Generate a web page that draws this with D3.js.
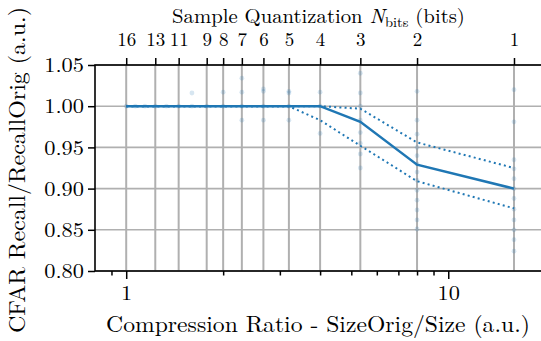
<!DOCTYPE html>
<html>
<head>
<meta charset="utf-8">
<script src="https://cdn.jsdelivr.net/npm/d3@7"></script>
<style>
  body { margin: 0; background: #fff; }
</style>
</head>
<body>
<div id="chart"></div>
<script>
// Data
const nbits = [16, 15, 14, 13, 12, 11, 10, 9, 8, 7, 6, 5, 4, 3, 2, 1];
const ratio = [1, 1.067, 1.143, 1.231, 1.333, 1.455, 1.6, 1.778, 2, 2.286, 2.667, 3.2, 4, 5.333, 8, 16];
const meanRecall  = [1, 1, 1, 1, 1, 1, 1, 1, 1, 1, 1, 1, 1, 0.981, 0.929, 0.900];
const upperRecall = [1, 1, 1, 1, 1, 1, 1, 1, 1, 1, 1, 1, 1, 0.997, 0.956, 0.925];
const lowerRecall = [1, 1, 1, 1, 1, 1, 1, 1, 1, 1, 1, 1, 0.983, 0.952, 0.909, 0.876];
const topTickBits = [16, 13, 11, 9, 8, 7, 6, 5, 4, 3, 2, 1];
const yTicks = [0.80, 0.85, 0.90, 0.95, 1.00, 1.05];
const xMajor = [1, 10];
const xMinor = [0.9, 2, 3, 4, 5, 6, 7, 8, 9, 20];
// single runs [nbits, recall ratio]
const runs = [
  [16, 1], [15, 1], [14, 1], [13, 1], [12, 1], [11, 1],
  [10, 1], [10, 1.016], [9, 1], [8, 1], [8, 1.017],
  [7, 1.034], [7, 1.017], [7, 1], [7, 0.983],
  [6, 1.018], [6, 1.021], [6, 1], [6, 0.983],
  [5, 1.016], [5, 1.018], [5, 1], [5, 0.983],
  [4, 1.017], [4, 1], [4, 0.967],
  [3, 1.040], [3, 1.016], [3, 1], [3, 0.983], [3, 0.968], [3, 0.955], [3, 0.942], [3, 0.925],
  [2, 1.018], [2, 0.983], [2, 0.966], [2, 0.950], [2, 0.940], [2, 0.930], [2, 0.920],
  [2, 0.910], [2, 0.898], [2, 0.886], [2, 0.874], [2, 0.862], [2, 0.851],
  [1, 1.020], [1, 0.981], [1, 0.935], [1, 0.924], [1, 0.912], [1, 0.900], [1, 0.888],
  [1, 0.875], [1, 0.862], [1, 0.850], [1, 0.838], [1, 0.824]
];

const svgWidth = 541, svgHeight = 341;
const margin = { left: 95, right: 545.2, top: 65, bottom: 271 };
const blue = "#1f77b4";
const font = "'Latin Modern Roman', 'Liberation Serif', serif";

const svg = d3.select("#chart").append("svg")
  .attr("width", svgWidth)
  .attr("height", svgHeight);

const x = d3.scaleLog().domain([0.8, 20]).range([margin.left, margin.right]);
const y = d3.scaleLinear().domain([0.8, 1.05]).range([margin.bottom, margin.top]);
const ratioOf = n => ratio[nbits.indexOf(n)];

// grid
svg.append("g").selectAll("line").data(yTicks).join("line")
  .attr("x1", margin.left).attr("x2", margin.right)
  .attr("y1", d => y(d)).attr("y2", d => y(d))
  .attr("stroke", "#b0b0b0").attr("stroke-width", 1.6);
svg.append("g").selectAll("line").data(topTickBits).join("line")
  .attr("x1", d => x(ratioOf(d))).attr("x2", d => x(ratioOf(d)))
  .attr("y1", margin.top).attr("y2", margin.bottom)
  .attr("stroke", "#b0b0b0").attr("stroke-width", 2);

// single runs
svg.append("g").selectAll("circle").data(runs).join("circle")
  .attr("cx", d => x(ratioOf(d[0])))
  .attr("cy", d => y(d[1]))
  .attr("r", 2.4)
  .attr("fill", blue)
  .attr("fill-opacity", 0.18);

// mean and spread lines
const line = d3.line().x((d, i) => x(ratio[i])).y(d => y(d));
svg.append("path").datum(upperRecall).attr("d", line)
  .attr("fill", "none").attr("stroke", blue).attr("stroke-width", 2)
  .attr("stroke-dasharray", "2,3.2");
svg.append("path").datum(lowerRecall).attr("d", line)
  .attr("fill", "none").attr("stroke", blue).attr("stroke-width", 2)
  .attr("stroke-dasharray", "2,3.2");
svg.append("path").datum(meanRecall).attr("d", line)
  .attr("fill", "none").attr("stroke", blue).attr("stroke-width", 2.5);

// axes
const yAxis = svg.append("g")
  .attr("transform", `translate(${margin.left},0)`)
  .call(d3.axisLeft(y).tickValues(yTicks).tickFormat(d3.format(".2f")).tickSize(7));

const xAxisMajor = svg.append("g")
  .attr("transform", `translate(0,${margin.bottom})`)
  .call(d3.axisBottom(x).tickValues(xMajor).tickFormat(d3.format("d")).tickSize(8));
const xAxisMinor = svg.append("g")
  .attr("transform", `translate(0,${margin.bottom})`)
  .call(d3.axisBottom(x).tickValues(xMinor).tickFormat("").tickSize(4.5));

const xAxisTop = svg.append("g")
  .attr("transform", `translate(0,${margin.top})`)
  .call(d3.axisTop(x).tickValues(topTickBits.map(ratioOf))
    .tickFormat(r => nbits[ratio.indexOf(r)]).tickSize(7));

[yAxis, xAxisMajor, xAxisMinor, xAxisTop].forEach(g => {
  g.select(".domain").remove();
  g.selectAll(".tick line").attr("stroke", "#000").attr("stroke-width", 1.5);
  g.selectAll(".tick text").style("font-family", font).style("font-size", "20px")
    .attr("fill", "#000").attr("x", 0).attr("y", 0).attr("dy", null);
});
yAxis.selectAll(".tick text").attr("dy", "0.33em")
  .attr("transform", "translate(-11,0) scale(1.12,1)");
xAxisMajor.selectAll(".tick text")
  .attr("transform", "translate(0,29) scale(1.12,1)");
xAxisTop.selectAll(".tick text").style("font-size", "19px")
  .attr("transform", "translate(0,-19.5)");

// spines
svg.append("rect")
  .attr("x", margin.left).attr("y", margin.top)
  .attr("width", margin.right - margin.left).attr("height", margin.bottom - margin.top)
  .attr("fill", "none").attr("stroke", "#000").attr("stroke-width", 1.6);

// axis labels, stretched to the widths seen in the picture
function fit(sel, cx, cy, target, rotate) {
  const w = sel.node().getBBox().width;
  const s = target / w;
  sel.attr("transform", `translate(${cx},${cy})` + (rotate ? " rotate(-90)" : "") + ` scale(${s},1)`);
}

const xLabel = svg.append("text")
  .attr("text-anchor", "middle").style("font-family", font).style("font-size", "23px")
  .text("Compression Ratio - SizeOrig/Size (a.u.)");
fit(xLabel, 318, 331.5, 424, false);

const topLabel = svg.append("text")
  .attr("text-anchor", "middle").style("font-family", font).style("font-size", "20px");
topLabel.append("tspan").text("Sample Quantization ");
topLabel.append("tspan").attr("font-style", "italic").text("N");
topLabel.append("tspan").style("font-size", "14px").attr("dy", 4).text("bits");
topLabel.append("tspan").attr("dy", -4).text(" (bits)");
fit(topLabel, 318.5, 23, 293, false);

const yLabel = svg.append("text")
  .attr("text-anchor", "middle").style("font-family", font).style("font-size", "23px")
  .text("CFAR Recall/RecallOrig (a.u.)");
fit(yLabel, 25, 170, 326, true);
</script>
</body>
</html>
